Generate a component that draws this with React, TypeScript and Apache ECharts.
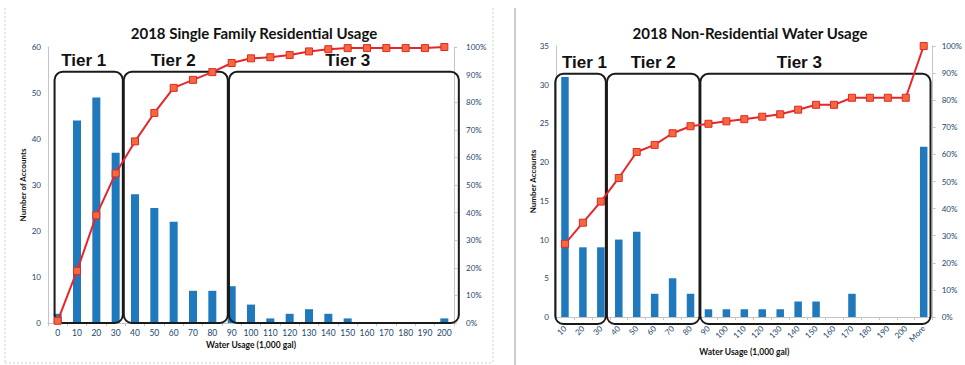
import React, { useEffect, useRef } from "react";
import * as echarts from "echarts";

// ---- Single family residential (left panel) ----
const sfTitle = "2018 Single Family Residential Usage";
const sfCategories = ["0", "10", "20", "30", "40", "50", "60", "70", "80", "90", "100", "110", "120", "130", "140", "150", "160", "170", "180", "190", "200"];
const sfAccounts = [2, 44, 49, 37, 28, 25, 22, 7, 7, 8, 4, 1, 2, 3, 2, 1, 0, 0, 0, 0, 1];
const sfCumulativePct = [0.8, 18.9, 39.0, 54.2, 65.8, 76.1, 85.2, 88.1, 90.9, 94.2, 95.9, 96.3, 97.1, 98.4, 99.2, 99.6, 99.6, 99.6, 99.6, 99.6, 100];

// ---- Non-residential (right panel) ----
const nrTitle = "2018 Non-Residential Water Usage";
const nrCategories = ["10", "20", "30", "40", "50", "60", "70", "80", "90", "100", "110", "120", "130", "140", "150", "160", "170", "180", "190", "200", "More"];
const nrAccounts = [31, 9, 9, 10, 11, 3, 5, 3, 1, 1, 1, 1, 1, 2, 2, 0, 3, 0, 0, 0, 22];
const nrCumulativePct = [27.0, 34.8, 42.6, 51.3, 60.9, 63.5, 67.8, 70.4, 71.3, 72.2, 73.0, 73.9, 74.8, 76.5, 78.3, 78.3, 80.9, 80.9, 80.9, 80.9, 100];

const tierNames = ["Tier 1", "Tier 2", "Tier 3"];
const xAxisTitle = "Water Usage (1,000 gal)";

// Tier frame layout, in category-index units along x and count units along y
const sfTierLayout = {
  spans: [[-0.16, 3.37], [3.42, 8.8], [8.86, 20.75]],
  labelCenters: [1.35, 5.98, 15.0],
  top: 54.6,
  bottom: 0,
  labelY: 57,
};
const nrTierLayout = {
  spans: [[-0.54, 2.28], [2.34, 7.5], [7.55, 20.38]],
  labelCenters: [1.09, 4.92, 13.07],
  top: 31.4,
  bottom: -0.9,
  labelY: 32.9,
};

const BAR_COLOR = "#1f79bc";
const LINE_COLOR = "#e5262b";
const MARKER_COLOR = "#f26a3b";
const LABEL_COLOR = "#23466b";
const AXIS_GRAY = "#c4c4c4";
const SMALL_FONT = "Lato";

function tierGraphics(chart: any, xAxisIndex: number, yAxisIndex: number, layout: any) {
  const x0 = chart.convertToPixel({ xAxisIndex }, 0);
  const x1 = chart.convertToPixel({ xAxisIndex }, 1);
  const step = x1 - x0;
  const px = (i: number) => x0 + step * i;
  const py = (v: number) => chart.convertToPixel({ yAxisIndex }, v);
  const out: any[] = [];
  layout.spans.forEach((span: number[], k: number) => {
    const left = px(span[0]);
    const right = px(span[1]);
    const top = py(layout.top);
    const bottom = py(layout.bottom);
    out.push({
      type: "rect",
      z: 5,
      shape: { x: left, y: top, width: right - left, height: bottom - top, r: 8 },
      style: { fill: "none", stroke: "#1a1a1a", lineWidth: 2 },
      silent: true,
    });
    out.push({
      type: "text",
      z: 6,
      x: px(layout.labelCenters[k]),
      y: py(layout.labelY),
      style: {
        text: tierNames[k],
        fill: "#111",
        font: "bold 17px 'Liberation Sans', Arial, sans-serif",
        align: "center",
        verticalAlign: "middle",
      },
      silent: true,
    });
  });
  return out;
}

function countAxis(gridIndex: number, max: number, interval: number, name: string, nameGap: number) {
  return {
    type: "value",
    gridIndex,
    min: 0,
    max,
    interval,
    name,
    nameLocation: "middle",
    nameGap,
    nameMoveOverlap: false,
    nameTextStyle: { fontFamily: SMALL_FONT, fontWeight: "bold", fontSize: 8, color: "#111" },
    axisLine: { show: true, lineStyle: { color: AXIS_GRAY } },
    axisTick: { show: false },
    splitLine: { show: false },
    axisLabel: { fontFamily: SMALL_FONT, fontSize: 8, color: LABEL_COLOR, margin: 7 },
  };
}

function pctAxis(gridIndex: number, margin: number) {
  return {
    type: "value",
    gridIndex,
    position: "right",
    min: 0,
    max: 100,
    interval: 10,
    axisLine: { show: true, lineStyle: { color: AXIS_GRAY } },
    axisTick: { show: true, length: 3, lineStyle: { color: AXIS_GRAY } },
    splitLine: { show: false },
    axisLabel: { fontFamily: SMALL_FONT, fontSize: 8, color: LABEL_COLOR, margin, formatter: "{value}%" },
  };
}

function catAxis(gridIndex: number, data: string[], rotate: number, nameGap: number, fontSize: number, margin: number) {
  return {
    type: "category",
    gridIndex,
    data,
    name: xAxisTitle,
    nameLocation: "middle",
    nameGap,
    nameMoveOverlap: false,
    nameTextStyle: { fontFamily: SMALL_FONT, fontWeight: "bold", fontSize: 8.5, color: "#111" },
    axisLine: { show: true, lineStyle: { color: AXIS_GRAY } },
    axisTick: { show: true, length: 3, lineStyle: { color: AXIS_GRAY } },
    axisLabel: {
      interval: 0,
      rotate,
      fontFamily: SMALL_FONT,
      fontSize,
      color: LABEL_COLOR,
      margin,
    },
  };
}

function cumulativeSeries(data: number[], xAxisIndex: number, yAxisIndex: number) {
  return {
    type: "line",
    data,
    xAxisIndex,
    yAxisIndex,
    z: 10,
    symbol: "rect",
    symbolSize: 7,
    itemStyle: { color: MARKER_COLOR, borderColor: LINE_COLOR, borderWidth: 1 },
    lineStyle: { color: LINE_COLOR, width: 2 },
  };
}

export default function App() {
  const ref = useRef<HTMLDivElement>(null);

  useEffect(() => {
    if (!ref.current) return;
    const chart = echarts.init(ref.current, undefined, { renderer: "svg" });

    const option: any = {
      animation: false,
      backgroundColor: "#ffffff",
      title: [
        {
          text: sfTitle,
          left: 249,
          top: 20,
          textAlign: "center",
          textStyle: { fontFamily: "Lato", fontWeight: "bold", fontSize: 15, color: "#111" },
        },
        {
          text: nrTitle,
          left: 745,
          top: 20,
          textAlign: "center",
          textStyle: { fontFamily: "Lato", fontWeight: "bold", fontSize: 15, color: "#111" },
        },
      ],
      grid: [
        { left: 48, top: 47, width: 406, height: 276 },
        { left: 556, top: 46, width: 386, height: 271 },
      ],
      xAxis: [catAxis(0, sfCategories, 0, 17, 8.5, 5), catAxis(1, nrCategories, 45, 30, 8, 10)],
      yAxis: [
        countAxis(0, 60, 10, "Number of Accounts", 21),
        pctAxis(0, 12),
        countAxis(1, 35, 5, "Number Accounts", 19),
        pctAxis(1, 9),
      ],
      series: [
        {
          type: "bar",
          data: sfAccounts,
          xAxisIndex: 0,
          yAxisIndex: 0,
          barWidth: 8,
          itemStyle: { color: BAR_COLOR },
          z: 2,
        },
        cumulativeSeries(sfCumulativePct, 0, 1),
        {
          type: "bar",
          data: nrAccounts,
          xAxisIndex: 1,
          yAxisIndex: 2,
          barWidth: 7.5,
          itemStyle: { color: BAR_COLOR },
          z: 2,
        },
        cumulativeSeries(nrCumulativePct, 1, 3),
      ],
    };
    chart.setOption(option);

    // Frames around the two panels, then the tier boxes placed via the axes
    const frames: any[] = [
      { type: "line", shape: { x1: 5, y1: 8, x2: 5, y2: 363 }, style: { stroke: "#cfcfcf", lineWidth: 1, lineDash: [2, 2] }, silent: true },
      { type: "line", shape: { x1: 5, y1: 363, x2: 493, y2: 363 }, style: { stroke: "#cfcfcf", lineWidth: 1, lineDash: [2, 2] }, silent: true },
      { type: "line", shape: { x1: 493, y1: 8, x2: 493, y2: 363 }, style: { stroke: "#cfcfcf", lineWidth: 1, lineDash: [2, 2] }, silent: true },
      { type: "line", shape: { x1: 515, y1: 8, x2: 515, y2: 365 }, style: { stroke: "#9a9a9a", lineWidth: 1 }, silent: true },
    ];
    chart.setOption({
      graphic: [...frames, ...tierGraphics(chart, 0, 0, sfTierLayout), ...tierGraphics(chart, 1, 2, nrTierLayout)],
    });

    return () => chart.dispose();
  }, []);

  return (
    <div
      ref={ref}
      style={{ position: "fixed", left: 0, top: 0, width: 965, height: 365, background: "#fff" }}
    />
  );
}
